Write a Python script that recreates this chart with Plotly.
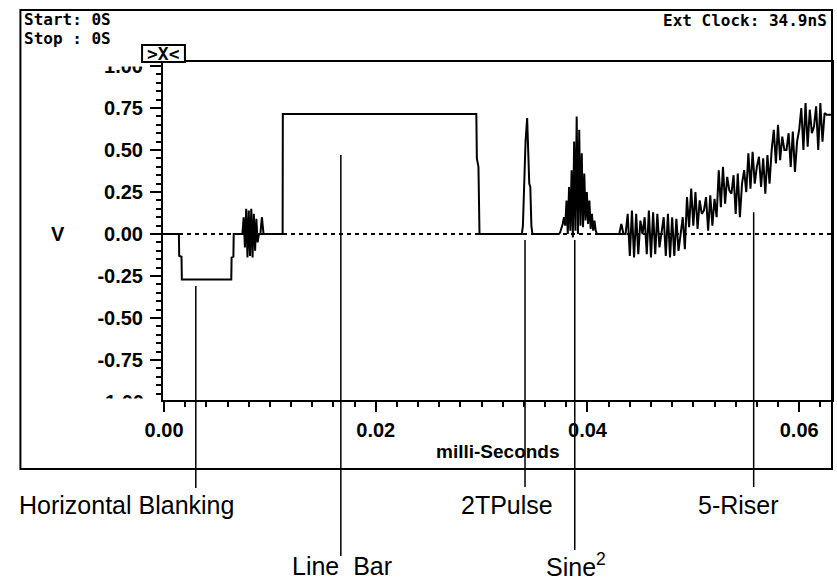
import plotly.graph_objects as go

# ---------------- data: time in milli-seconds, amplitude in volts ----------------
burst_step = 0.00012   # ms between samples in the dense bursts
riser_step = 0.0002

blank_t = [0.0, 0.00140, 0.00143, 0.00165, 0.00168, 0.00635, 0.00638, 0.00655, 0.00658]
blank_v = [0.0, 0.0, -0.13, -0.135, -0.27, -0.27, -0.14, -0.135, 0.0]

burst_start = 0.00740
burst_v = [0.0, 0.10, -0.08, 0.15, -0.14, 0.14, -0.13, 0.15, -0.14, 0.12, -0.10, 0.09, -0.05, 0.0]

blip_t = [0.00910, 0.00918, 0.00925, 0.00932, 0.00940]
blip_v = [0.0, 0.06, 0.10, 0.05, 0.0]

bar_t = [0.01120, 0.01122, 0.02950, 0.02955, 0.02970, 0.02980]
bar_v = [0.0, 0.715, 0.715, 0.45, 0.40, 0.0]

pulse_t = [0.0338, 0.0339, 0.0340, 0.03415, 0.0343, 0.0344, 0.0345, 0.0346, 0.0347, 0.0348]
pulse_v = [0.0, 0.05, 0.25, 0.55, 0.69, 0.50, 0.30, 0.28, 0.05, 0.0]

sine2_start = 0.0373
sine2_v = [0.0, 0.01, 0.03, 0.06, 0.10, 0.05, 0.20, 0.0, 0.28, 0.02, 0.38, -0.02, 0.55, 0.02,
           0.70, 0.0, 0.62, 0.05, 0.48, 0.04, 0.36, 0.08, 0.25, 0.06, 0.20, 0.03, 0.12, 0.02,
           0.08, 0.02, 0.0]

riser_start = 0.0430
riser_v = [0, 0.06, 0, 0, 0.12, -0.13, 0.14, -0.14, 0.12, -0.12,
           0.08, 0, 0.10, -0.12, 0.14, -0.14, 0.13, -0.12, 0.12, -0.08,
           0, 0.10, -0.13, 0.12, -0.14, 0.10, -0.13, 0.09, -0.10, 0,
           0.10, -0.09, 0.22, 0.04, 0.27, 0.05, 0.25, 0.03, 0.20, 0.12,
           0.14, 0.22, 0.02, 0.23, 0.05, 0.21, 0.10, 0.38, 0.16, 0.40,
           0.18, 0.34, 0.26, 0.24, 0.35, 0.12, 0.36, 0.10, 0.30, 0.38,
           0.25, 0.48, 0.27, 0.49, 0.30, 0.40, 0.46, 0.28, 0.45, 0.24,
           0.47, 0.30, 0.50, 0.62, 0.42, 0.65, 0.44, 0.58, 0.50, 0.50,
           0.60, 0.40, 0.61, 0.37, 0.55, 0.62, 0.75, 0.50, 0.78, 0.52,
           0.74, 0.60, 0.64, 0.76, 0.50, 0.78, 0.55, 0.72, 0.71, 0.71,
           0.71]
tail_t = [0.0631]
tail_v = [0.71]

x_range = [-0.0001, 0.0631]
y_range = [-0.988, 1.024]
y_ticks = [-0.75, -0.5, -0.25, 0.0, 0.25, 0.5, 0.75, 1.0]
y_ticktext = ["-0.75", "-0.50", "-0.25", "0.00", "0.25", "0.50", "0.75", "1.00"]
x_ticks = [0.0, 0.02, 0.04, 0.06]
x_ticktext = ["0.00", "0.02", "0.04", "0.06"]

callout_text = ["Horizontal Blanking", "Line  Bar", "2TPulse", "Sine<sup>2</sup>", "5-Riser"]
callout_t = [0.0030, 0.0167, 0.0341, 0.0388, 0.0557]
callout_top_v = [-0.31, 0.47, -0.036, -0.036, 0.13]

# ---------------- assemble waveform ----------------
def grid(start, step, vals):
    return [start + i * step for i in range(len(vals))]

t = (blank_t + grid(burst_start, burst_step, burst_v) + blip_t + bar_t + pulse_t
     + grid(sine2_start, burst_step, sine2_v) + grid(riser_start, riser_step, riser_v) + tail_t)
v = blank_v + burst_v + blip_v + bar_v + pulse_v + sine2_v + riser_v + tail_v

# ---------------- layout geometry ----------------
W, H = 837, 581
L, R, T, B = 163, 834, 62, 420        # plot area incl. helper strip below the axis
AX_B = 400                            # pixel row of the x axis line
PW, PH = R - L, B - T
y_dom0 = (B - AX_B) / PH
px_per_volt = (AX_B - T) / (y_range[1] - y_range[0])

def px_x(px):
    return (px - L) / PW

def px_y(py):
    return (B - py) / PH

def v_to_paper(val):
    return y_dom0 + (val - y_range[0]) / (y_range[1] - y_range[0]) * (1 - y_dom0)

tick_font = dict(family="Liberation Sans, Arial, sans-serif", size=20, color="black", weight="bold")
mono = dict(family="DejaVu Sans Mono, monospace", size=16, color="black", weight="bold")
label_font = dict(family="Liberation Sans, Arial, sans-serif", size=25, color="black")

fig = go.Figure()
fig.add_trace(go.Scatter(x=x_range, y=[0, 0], mode="lines",
                         line=dict(color="black", width=2, dash="4px,4px"),
                         hoverinfo="skip", showlegend=False))
fig.add_trace(go.Scatter(x=t, y=v, mode="lines", line=dict(color="black", width=2),
                         showlegend=False))
# helper trace so the small strip axis (for the clipped "-1.00") exists
fig.add_trace(go.Scatter(x=[None], y=[None], yaxis="y2", showlegend=False, hoverinfo="skip"))

shapes = []
# outer frame
shapes.append(dict(type="rect", xref="paper", yref="paper",
                   x0=px_x(20), x1=px_x(834), y0=px_y(469), y1=px_y(10),
                   line=dict(color="black", width=2), fillcolor="rgba(0,0,0,0)", layer="below"))
# white masks that clip the +/-1.00 labels at the plot edges
shapes.append(dict(type="rect", xref="paper", yref="paper",
                   x0=px_x(88), x1=px_x(150), y0=px_y(66.5), y1=px_y(50),
                   line=dict(width=0), fillcolor="white", layer="above"))
shapes.append(dict(type="rect", xref="paper", yref="paper",
                   x0=px_x(88), x1=px_x(160), y0=px_y(416), y1=px_y(398.5),
                   line=dict(width=0), fillcolor="white", layer="above"))
# cursor marker box
shapes.append(dict(type="rect", xref="paper", yref="paper",
                   x0=px_x(142), x1=px_x(185), y0=px_y(62), y1=px_y(45),
                   line=dict(color="black", width=2), fillcolor="white", layer="above"))

label_pos = [(126, 505), (343, 566), (508, 505), (577, 565), (740, 505)]
pointer_bottom = [488, 556, 487, 550, 487]
annotations = []
for txt, tx, tv, (lx, ly), pb in zip(callout_text, callout_t, callout_top_v, label_pos, pointer_bottom):
    shapes.append(dict(type="line", xref="x", yref="paper", x0=tx, x1=tx,
                       y0=v_to_paper(tv), y1=px_y(pb), line=dict(color="black", width=1.5)))
    annotations.append(dict(text=txt, xref="paper", yref="paper", x=px_x(lx), y=px_y(ly),
                            xanchor="center", yanchor="middle", showarrow=False, font=label_font))

annotations += [
    dict(text="Start: 0S", xref="paper", yref="paper", x=px_x(22), y=px_y(19),
         xanchor="left", yanchor="middle", showarrow=False, font=mono),
    dict(text="Stop : 0S", xref="paper", yref="paper", x=px_x(22), y=px_y(38),
         xanchor="left", yanchor="middle", showarrow=False, font=mono),
    dict(text="Ext Clock: 34.9nS", xref="paper", yref="paper", x=px_x(831), y=px_y(20),
         xanchor="right", yanchor="middle", showarrow=False, font=mono),
    dict(text="&gt;X&lt;", xref="paper", yref="paper", x=px_x(163.5), y=px_y(53.5),
         xanchor="center", yanchor="middle", showarrow=False,
         font=dict(family="DejaVu Sans Mono, monospace", size=18, color="black", weight="bold")),
    dict(text="V", xref="paper", yref="y", x=px_x(58), y=0,
         xanchor="center", yanchor="middle", showarrow=False, font=tick_font),
    dict(text="milli-Seconds", xref="paper", yref="paper", x=0.5, y=px_y(452),
         xanchor="center", yanchor="middle", showarrow=False,
         font=dict(family="Liberation Sans, Arial, sans-serif", size=19, color="black", weight="bold")),
]

axis_common = dict(showgrid=False, zeroline=False, showline=True, linecolor="black",
                   linewidth=2, ticks="outside", tickwidth=2, tickcolor="black",
                   tickfont=tick_font, mirror=True)

fig.update_layout(
    width=W, height=H,
    margin=dict(l=L, r=W - R, t=T, b=H - B, pad=0),
    paper_bgcolor="white", plot_bgcolor="white",
    showlegend=False,
    xaxis=dict(range=x_range, tickmode="array", tickvals=x_ticks, ticktext=x_ticktext,
               ticklen=10, anchor="y", ticklabelstandoff=1,
               minor=dict(tickmode="linear", tick0=0, dtick=0.002, ticks="outside",
                          ticklen=5, tickwidth=2, tickcolor="black", showgrid=False),
               **axis_common),
    yaxis=dict(range=y_range, domain=[y_dom0, 1], tickmode="array", tickvals=y_ticks,
               ticktext=y_ticktext, ticklen=11, ticklabelstandoff=3,
               minor=dict(tickmode="linear", tick0=0, dtick=0.05, ticks="outside",
                          ticklen=5, tickwidth=2, tickcolor="black", showgrid=False),
               **axis_common),
    yaxis2=dict(range=[y_range[0] - (B - AX_B) / px_per_volt, y_range[0]],
                domain=[0, y_dom0], anchor="x", tickmode="array", tickvals=[-1.0],
                ticktext=["-1.00"], ticks="outside", ticklen=11, tickcolor="white",
                ticklabelstandoff=3, showgrid=False, zeroline=False, showline=False,
                tickfont=tick_font),
    shapes=shapes,
    annotations=annotations,
)

fig.write_html("out.html")
